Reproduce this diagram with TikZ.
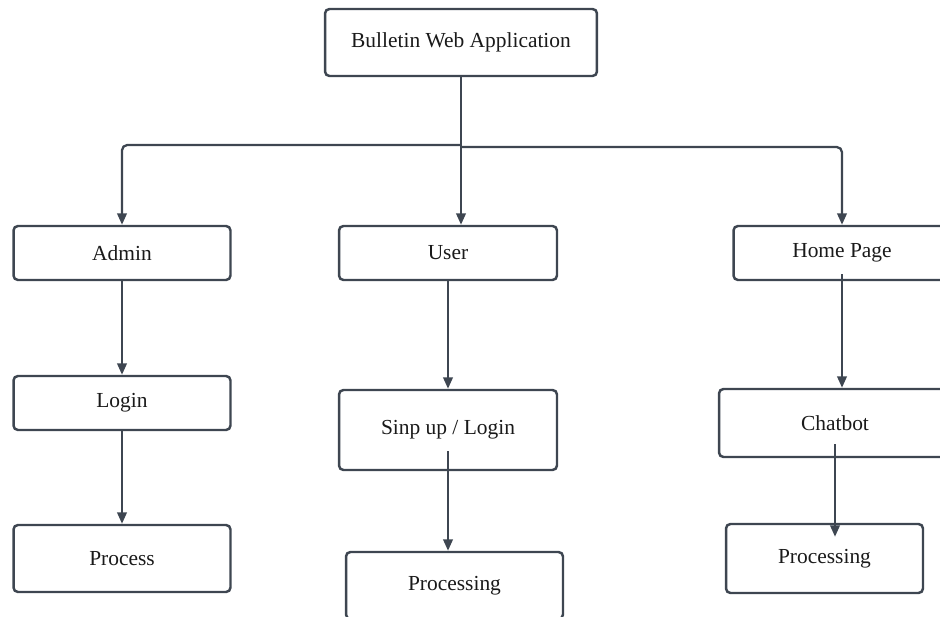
\documentclass[tikz,border=0pt]{standalone}
\definecolor{SlateLine}{HTML}{3E4651}
\definecolor{InkText}  {HTML}{1A1A1A}
\usepackage{fontspec}
\setmainfont{Liberation Serif}
\usepackage{tikz}
\usetikzlibrary{positioning,arrows.meta,calc}

\begin{document}
\begin{tikzpicture}[x=0.02cm,y=-0.02cm,
          every node/.style={rectangle,rounded corners=2.5pt,draw=SlateLine,
                             line width=1.4pt,fill=white,text=InkText,inner sep=0pt,
                             minimum width=4.34cm,minimum height=1.08cm,
                             font=\fontsize{12.2}{14}\selectfont},
          link/.style={draw=SlateLine,line width=1.3pt},
          arr/.style={link,-{Triangle[length=6.5pt,width=5.4pt]}}]
        \useasboundingbox (0,0) rectangle (940,617);
        \clip (0,0) rectangle (940,617);
        \node[minimum width=5.44cm,minimum height=1.34cm] (app) at (461,42.5) {Bulletin Web Application};
        \node (admin) at (122,253) {Admin};
        \node (login) at (122,403) {Login};
        \node[minimum height=1.34cm] (process) at (122,558.5) {Process};
        \node[minimum width=4.36cm] (user) at (448,253) {User};
        \node[minimum width=4.36cm,minimum height=1.6cm] (signup) at (448,430) {Sinp up / Login};
        \node[minimum height=1.34cm] (proc2) at (454.5,585.5) {Processing};
        \node (home) at (842,253) {Home Page};
        \node[minimum width=4.64cm,minimum height=1.36cm] (chat) at (835,423) {Chatbot};
        \node[minimum width=3.94cm,minimum height=1.38cm] (proc3) at (824.5,558.5) {Processing};
        \coordinate (split) at (461,147);
        \coordinate (splitl) at (461,145);
        % top level branches
        \draw[link] (app.south) -- (split);
        \draw[arr,rounded corners=3pt] (splitl) -| (admin.north);
        \draw[arr] (split) -- (split |- user.north);
        \draw[arr,rounded corners=3pt] (split) -| (home.north);
        % columns
        \draw[arr] (admin) -- (login);
        \draw[arr] (login) -- (process);
        \draw[arr] (user) -- (signup);
        \draw[arr] ($(signup.south)+(0,-20)$) -- (signup.south |- proc2.north);
        \draw[arr] ($(home.south)+(0,-7)$) -- (home.south |- chat.north);
        \draw[arr] ($(chat.south)+(0,-14)$) -- ($(chat.south |- proc3.north)+(0,14)$);
      \end{tikzpicture}
\end{document}
